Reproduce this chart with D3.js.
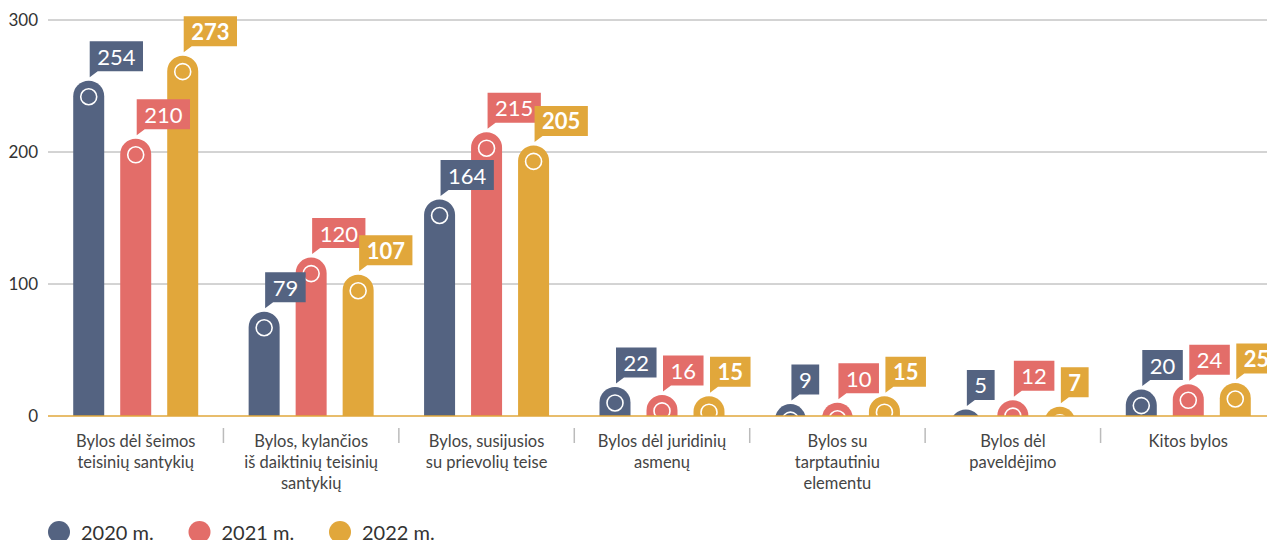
<!DOCTYPE html>
<html><head><meta charset="utf-8">
<script src="https://cdn.jsdelivr.net/npm/d3@7"></script>
<style>
body{margin:0;background:#fff;}
svg{display:block;font-family:Lato,"Open Sans",sans-serif;}
</style></head>
<body>
<svg id="chart" width="1267" height="540"></svg>
<script>
const categories = [
  ["Bylos dėl šeimos","teisinių santykių"],
  ["Bylos, kylančios","iš daiktinių teisinių","santykių"],
  ["Bylos, susijusios","su prievolių teise"],
  ["Bylos dėl juridinių","asmenų"],
  ["Bylos su","tarptautiniu","elementu"],
  ["Bylos dėl","paveldėjimo"],
  ["Kitos bylos"]
];
const years = ["2020 m.","2021 m.","2022 m."];
const values2020 = [254,79,164,22,9,5,20];
const values2021 = [210,120,215,16,10,12,24];
const values2022 = [273,107,205,15,15,7,25];
const yTicks = [0,100,200,300];
const colors = ["#546381","#e36d69","#e1a73b"];

const series = [values2020, values2021, values2022];
const svg = d3.select("#chart");
const y = d3.scaleLinear().domain([0,300]).range([416,20]);
const x = d3.scaleBand().domain(d3.range(categories.length)).range([48,1276]);
const xi = d3.scaleBand().domain(d3.range(years.length)).range([-62.5,62.5]).paddingInner(16/47);
const base = y(0);

// gridlines
const yAxis = d3.axisLeft(y).tickValues(yTicks).tickSize(0).tickPadding(10);
const ga = svg.append("g").attr("transform","translate(48,0)").call(yAxis);
ga.select(".domain").remove();
ga.selectAll("text").attr("font-size",17).attr("fill","#333").attr("font-family","Lato,sans-serif").attr("x",-10);
svg.append("g").selectAll("line").data(yTicks.filter(d=>d>0)).join("line")
  .attr("x1",48).attr("x2",1267).attr("y1",d=>y(d)).attr("y2",d=>y(d))
  .attr("stroke","#a8a8a8").attr("stroke-width",1);

// clip
svg.append("defs").append("clipPath").attr("id","clipBase")
  .append("rect").attr("x",0).attr("y",0).attr("width",1267).attr("height",base);

const bars = svg.append("g").attr("clip-path","url(#clipBase)");
const labels = svg.append("g");
const r = xi.bandwidth()/2;

series.forEach((vals,si)=>{
  vals.forEach((v,ci)=>{
    const cx = x(ci) + x.bandwidth()/2;
    const x0 = cx + xi(si);
    const w = xi.bandwidth();
    const top = y(v);
    const bottom = Math.max(base, top + r + 1);
    const p = d3.path();
    p.moveTo(x0, bottom);
    p.lineTo(x0, top + r);
    p.arc(x0 + r, top + r, r, Math.PI, 0);
    p.lineTo(x0 + w, bottom);
    p.closePath();
    bars.append("path").attr("d",p.toString()).attr("fill",colors[si]);
    bars.append("circle").attr("cx",x0+r).attr("cy",top+16).attr("r",8)
      .attr("fill","none").attr("stroke","#fff").attr("stroke-width",1.6);

    // label box
    const bx = x0 + r + 1;
    const bb = top - 9.5;
    const g = labels.append("g");
    const t = g.append("text").text(v).attr("font-size",22)
      .attr("font-weight", si===2 ? 700 : 400).attr("fill","#fff")
      .attr("font-family","Lato,sans-serif");
    const tw = t.node().getComputedTextLength();
    const bw = tw + 15, bh = 30;
    g.insert("path","text").attr("d",
      `M${bx},${bb-bh}H${bx+bw}V${bb}H${bx+8}L${bx},${bb+6}Z`).attr("fill",colors[si]);
    t.attr("x",bx+bw/2).attr("y",bb-bh/2).attr("text-anchor","middle").attr("dominant-baseline","central");
  });
});

// baseline
svg.append("line").attr("x1",48).attr("x2",1267).attr("y1",base).attr("y2",base)
  .attr("stroke","#e1a73b").attr("stroke-width",1.5);

// separators
svg.append("g").selectAll("line").data(d3.range(1,categories.length)).join("line")
  .attr("x1",d=>x(d)).attr("x2",d=>x(d)).attr("y1",428).attr("y2",443)
  .attr("stroke","#bbb").attr("stroke-width",1.5);

// category labels
const cl = svg.append("g");
categories.forEach((lines,ci)=>{
  const t = cl.append("text").attr("text-anchor","middle").attr("font-size",16.5).attr("fill","#444")
    .attr("font-family","Lato,sans-serif");
  lines.forEach((ln,i)=>{
    t.append("tspan").attr("x",x(ci)+x.bandwidth()/2).attr("y",447+i*21).text(ln);
  });
});

// legend
const legX = [59,199.5,340];
const lg = svg.append("g");
years.forEach((yr,i)=>{
  lg.append("circle").attr("cx",legX[i]).attr("cy",532).attr("r",11).attr("fill",colors[i]);
  lg.append("text").attr("x",legX[i]+22).attr("y",532).attr("dominant-baseline","central")
    .attr("font-size",20).attr("fill","#333").attr("font-family","Lato,sans-serif").text(yr);
});
</script>
</body></html>
